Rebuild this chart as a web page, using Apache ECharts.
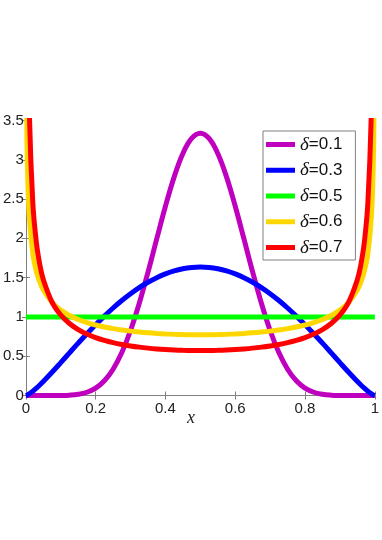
<!DOCTYPE html>
<html>
<head>
<meta charset="utf-8">
<script src="https://cdn.jsdelivr.net/npm/echarts@6/dist/echarts.min.js"></script>
<style>
  html, body { margin: 0; padding: 0; background: #fff; }
  #chart { width: 382px; height: 540px; }
</style>
</head>
<body>
<div id="chart"></div>
<script>
// x positions where the curves were read
const xValues = [0, 0.0025, 0.005, 0.01, 0.02, 0.03, 0.04, 0.05, 0.075, 0.1, 0.125, 0.15, 0.175, 0.2, 0.225, 0.25, 0.275, 0.3, 0.325, 0.35, 0.375, 0.4, 0.425, 0.45, 0.475, 0.5,
  0.525, 0.55, 0.575, 0.6, 0.625, 0.65, 0.675, 0.7, 0.725, 0.75, 0.775, 0.8, 0.825, 0.85, 0.875, 0.9, 0.925, 0.95, 0.96, 0.97, 0.98, 0.99, 0.995, 0.9975, 1];

const delta01 = [0, 0, 0, 0, 0, 0, 0, 0, 0.0001, 0.0009, 0.0045, 0.0153, 0.0413, 0.094, 0.187, 0.3342, 0.5462, 0.8275, 1.1736, 1.57, 1.9922, 2.4082, 2.7828, 3.0806, 3.2726, 3.3385,
  3.2726, 3.0806, 2.7828, 2.4082, 1.9922, 1.57, 1.1736, 0.8275, 0.5462, 0.3342, 0.187, 0.094, 0.0413, 0.0153, 0.0045, 0.0009, 0.0001, 0, 0, 0, 0, 0, 0, 0, 0];

const delta03 = [0, 0.0035, 0.0088, 0.0221, 0.0548, 0.0929, 0.1344, 0.1785, 0.2958, 0.4185, 0.5428, 0.6659, 0.786, 0.9014, 1.0109, 1.1137, 1.2087, 1.2953, 1.373, 1.4412, 1.4996, 1.5477, 1.5855, 1.6126, 1.6289, 1.6343,
  1.6289, 1.6126, 1.5855, 1.5477, 1.4996, 1.4412, 1.373, 1.2953, 1.2087, 1.1137, 1.0109, 0.9014, 0.786, 0.6659, 0.5428, 0.4185, 0.2958, 0.1785, 0.1344, 0.0929, 0.0548, 0.0221, 0.0088, 0.0035, 0];

const delta05 = [1, 1, 1, 1, 1, 1, 1, 1, 1, 1, 1, 1, 1, 1, 1, 1, 1, 1, 1, 1, 1, 1, 1, 1, 1, 1,
  1, 1, 1, 1, 1, 1, 1, 1, 1, 1, 1, 1, 1, 1, 1, 1, 1, 1, 1, 1, 1, 1, 1, 1, 1];

const delta06 = [10, 3.5912, 2.8528, 2.2681, 1.8063, 1.5833, 1.4435, 1.3447, 1.1852, 1.0867, 1.0183, 0.9676, 0.9283, 0.8971, 0.8717, 0.8509, 0.8336, 0.8193, 0.8075, 0.7978, 0.7899, 0.7837, 0.779, 0.7757, 0.7737, 0.7731,
  0.7737, 0.7757, 0.779, 0.7837, 0.7899, 0.7978, 0.8075, 0.8193, 0.8336, 0.8509, 0.8717, 0.8971, 0.9283, 0.9676, 1.0183, 1.0867, 1.1852, 1.3447, 1.4435, 1.5833, 1.8063, 2.2681, 2.8528, 3.5912, 10];

const delta07 = [20, 7.9483, 5.3565, 3.6153, 2.447, 1.9524, 1.6662, 1.4755, 1.1883, 1.0241, 0.9161, 0.8393, 0.7817, 0.7371, 0.7018, 0.6733, 0.6501, 0.6311, 0.6155, 0.6029, 0.5927, 0.5847, 0.5787, 0.5745, 0.572, 0.5712,
  0.572, 0.5745, 0.5787, 0.5847, 0.5927, 0.6029, 0.6155, 0.6311, 0.6501, 0.6733, 0.7018, 0.7371, 0.7817, 0.8393, 0.9161, 1.0241, 1.1883, 1.4755, 1.6662, 1.9524, 2.447, 3.6153, 5.3565, 7.9483, 20];

const seriesNames = ["δ=0.1", "δ=0.3", "δ=0.5", "δ=0.6", "δ=0.7"];
const seriesValues = [delta01, delta03, delta05, delta06, delta07];
const seriesColors = ["#bf00bf", "#0000ff", "#00ff00", "#ffd700", "#ff0000"];

const chart = echarts.init(document.getElementById("chart"));

const axisColor = "#808080";
const labelFont = "'Liberation Sans', Arial, Helvetica, sans-serif";

function boxAxis(extra) {
  return Object.assign({
    type: "value",
    axisLine: { show: true, lineStyle: { color: axisColor, width: 1 } },
    axisTick: { show: true, inside: true, length: 4, lineStyle: { color: axisColor } },
    axisLabel: { show: false },
    splitLine: { show: false },
  }, extra);
}

const option = {
  animation: false,
  backgroundColor: "#fff",
  grid: { left: 21.5, right: 5.5, top: 120.5, bottom: 144.5 },
  xAxis: [
    boxAxis({
      min: 0, max: 1, interval: 0.2, position: "bottom",
      axisLabel: { show: true, color: "#222", fontSize: 15, fontFamily: labelFont, margin: 6 },
    }),
    boxAxis({ min: 0, max: 1, interval: 0.2, position: "top" }),
  ],
  yAxis: [
    boxAxis({
      min: 0, max: 3.5, interval: 0.5, position: "left",
      axisLabel: { show: true, color: "#222", fontSize: 15, fontFamily: labelFont, margin: 2 },
    }),
    boxAxis({ min: 0, max: 3.5, interval: 0.5, position: "right" }),
  ],
  legend: {
    left: 263,
    top: 131,
    orient: "vertical",
    data: seriesNames,
    icon: "rect",
    itemWidth: 29,
    itemHeight: 5,
    itemGap: 6.75,
    padding: [4, 13, 3, 3],
    backgroundColor: "#fff",
    borderColor: axisColor,
    borderWidth: 1,
    borderRadius: 0,
    formatter: (name) => "{d|δ}{n|" + name.slice(1) + "}",
    textStyle: {
      rich: {
        d: { fontFamily: "'Liberation Serif', 'Times New Roman', serif", fontStyle: "italic", fontSize: 19, color: "#111", lineHeight: 20 },
        n: { fontFamily: labelFont, fontSize: 17, color: "#111", lineHeight: 20 },
      },
    },
  },
  graphic: [
    {
      type: "text",
      left: 187,
      top: 409,
      style: {
        text: "x",
        font: "italic 18px 'Liberation Serif', 'Times New Roman', serif",
        fill: "#222",
      },
    },
  ],
  series: seriesNames.map((name, i) => ({
    name: name,
    type: "line",
    data: xValues.map((x, j) => [x, seriesValues[i][j]]),
    symbol: "none",
    smooth: 0.4,
    clip: true,
    color: seriesColors[i],
    lineStyle: { width: 5, color: seriesColors[i] },
    z: 2 + i,
  })),
};

chart.setOption(option);
</script>
</body>
</html>
